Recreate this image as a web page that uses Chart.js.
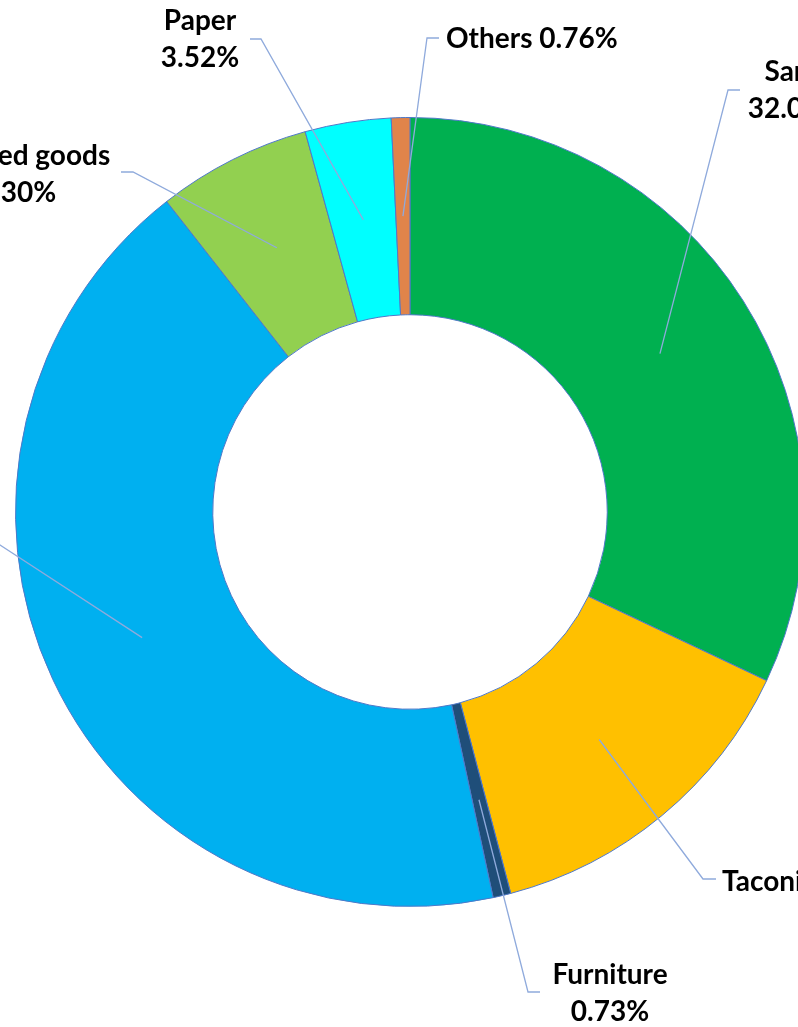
<!DOCTYPE html>
<html>
<head>
<meta charset="utf-8">
<script src="https://cdn.jsdelivr.net/npm/chart.js@4.4.1/dist/chart.umd.min.js"></script>
<style>
  html, body { margin: 0; padding: 0; background: #fff; overflow: hidden; }
  #wrap { position: absolute; left: 0; top: 0; width: 840px; height: 1027px; }
</style>
</head>
<body>
<div id="wrap"><canvas id="donut" width="840" height="1027"></canvas></div>
<script>
// slices, clockwise from 12 o'clock
const categories = ['Sand', 'Taconite', 'Furniture', 'Stone', 'Finished goods', 'Paper', 'Others'];
const shares     = [32.03, 13.86, 0.73, 42.80, 6.30, 3.52, 0.76];
const colours    = ['#00b050', '#ffc000', '#1f4e79', '#00b0f0', '#92d050', '#00ffff', '#e0844a'];

// label text lines per slice
const labelLines = [
  ['Sand', '32.03%'],
  ['Taconite 13.86%'],
  ['Furniture', '0.73%'],
  ['Stone', '42.80%'],
  ['Finished goods', '6.30%'],
  ['Paper', '3.52%'],
  ['Others 0.76%']
];

// where each label sits: elbow of leader line, short tick, text anchor
const labelSpots = [
  { elbow: [728, 90],  tick: 12,  tx: 795, ty: 72,  align: 'center' },
  { elbow: [703, 879], tick: 13,  tx: 722, ty: 882, align: 'left' },
  { elbow: [528, 992], tick: 12,  tx: 610, ty: 975, align: 'center' },
  { elbow: [-20, 532], tick: -14, tx: -80, ty: 520, align: 'center' },
  { elbow: [133, 172], tick: -12, tx: 17,  ty: 156, align: 'center' },
  { elbow: [261, 39],  tick: -11, tx: 200, ty: 21,  align: 'center' },
  { elbow: [427, 38],  tick: 12,  tx: 446, ty: 39,  align: 'left' }
];

const leaderLabels = {
  id: 'leaderLabels',
  afterDatasetsDraw(chart) {
    const ctx = chart.ctx;
    const arcs = chart.getDatasetMeta(0).data;
    ctx.save();
    arcs.forEach((arc, i) => {
      const p = arc.getProps(['x', 'y', 'startAngle', 'endAngle', 'innerRadius', 'outerRadius'], true);
      const mid = (p.startAngle + p.endAngle) / 2;
      const r = (p.innerRadius + p.outerRadius) / 2;
      const s = labelSpots[i];
      ctx.strokeStyle = '#8faadc';
      ctx.lineWidth = 1.3;
      ctx.beginPath();
      ctx.moveTo(p.x + Math.cos(mid) * r, p.y + Math.sin(mid) * r);
      ctx.lineTo(s.elbow[0], s.elbow[1]);
      ctx.lineTo(s.elbow[0] + s.tick, s.elbow[1]);
      ctx.stroke();
    });
    ctx.fillStyle = '#000';
    ctx.font = 'bold 28px Lato, "Open Sans", sans-serif';
    ctx.textBaseline = 'middle';
    labelLines.forEach((lines, i) => {
      const s = labelSpots[i];
      ctx.textAlign = s.align;
      lines.forEach((t, k) => ctx.fillText(t, s.tx, s.ty + k * 37));
    });
    ctx.restore();
  }
};

new Chart(document.getElementById('donut'), {
  type: 'doughnut',
  data: {
    labels: categories,
    datasets: [{
      data: shares,
      backgroundColor: colours,
      borderColor: '#4f78c8',
      borderWidth: 1
    }]
  },
  options: {
    responsive: false,
    animation: false,
    cutout: '50%',
    layout: { padding: { left: 15, right: 35, top: 117, bottom: 120 } },
    plugins: {
      legend: { display: false },
      tooltip: { enabled: false }
    }
  },
  plugins: [leaderLabels]
});
</script>
</body>
</html>
